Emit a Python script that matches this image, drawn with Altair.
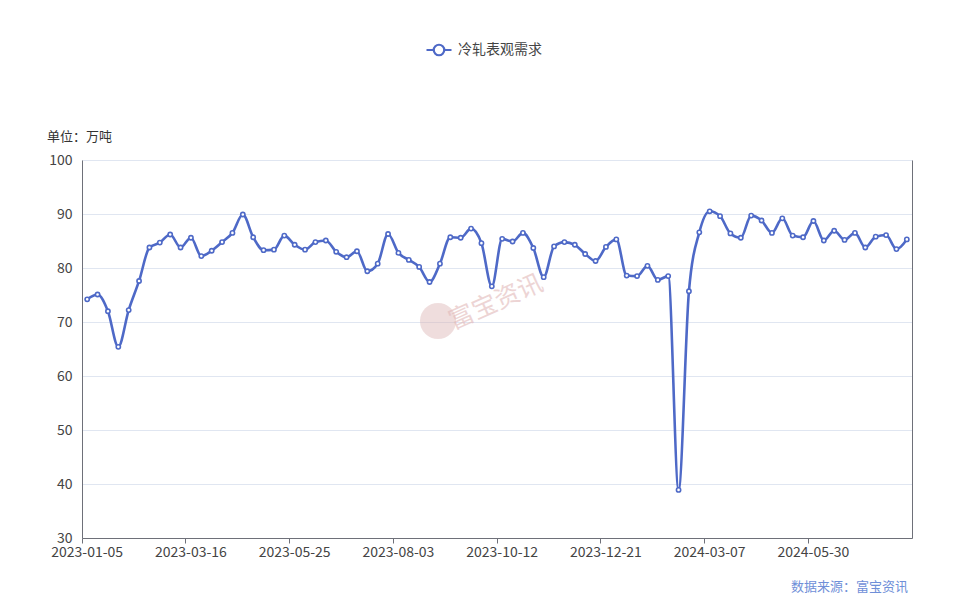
import altair as alt
import pandas as pd

dates = [
    "2023-01-05", "2023-01-12", "2023-01-19", "2023-01-26", "2023-02-02", "2023-02-09", "2023-02-16", "2023-02-23", "2023-03-02", "2023-03-09",
    "2023-03-16", "2023-03-23", "2023-03-30", "2023-04-06", "2023-04-13", "2023-04-20", "2023-04-27", "2023-05-04", "2023-05-11", "2023-05-18",
    "2023-05-25", "2023-06-01", "2023-06-08", "2023-06-15", "2023-06-22", "2023-06-29", "2023-07-06", "2023-07-13", "2023-07-20", "2023-07-27",
    "2023-08-03", "2023-08-10", "2023-08-17", "2023-08-24", "2023-08-31", "2023-09-07", "2023-09-14", "2023-09-21", "2023-09-28", "2023-10-05",
    "2023-10-12", "2023-10-19", "2023-10-26", "2023-11-02", "2023-11-09", "2023-11-16", "2023-11-23", "2023-11-30", "2023-12-07", "2023-12-14",
    "2023-12-21", "2023-12-28", "2024-01-04", "2024-01-11", "2024-01-18", "2024-01-25", "2024-02-01", "2024-02-08", "2024-02-22", "2024-02-29",
    "2024-03-07", "2024-03-14", "2024-03-21", "2024-03-28", "2024-04-03", "2024-04-11", "2024-04-18", "2024-04-25", "2024-05-09", "2024-05-16",
    "2024-05-30", "2024-06-06", "2024-06-13", "2024-06-20", "2024-06-27", "2024-07-04", "2024-07-11", "2024-07-18", "2024-07-25", "2024-08-01",
]

values = [
    74.2, 75.1, 72.0, 65.4, 72.2, 77.6, 83.8, 84.7, 86.2, 83.8,
    85.6, 82.2, 83.2, 84.8, 86.5, 89.9, 85.7, 83.3, 83.4, 86.0,
    84.3, 83.4, 84.8, 85.1, 83.0, 82.0, 83.1, 79.4, 80.8, 86.3,
    82.8, 81.5, 80.2, 77.4, 80.8, 85.7, 85.6, 87.3, 84.6, 76.6,
    85.4, 84.9, 86.5, 83.7, 78.3, 84.0, 84.8, 84.3, 82.6, 81.3,
    83.9, 85.3, 78.6, 78.5, 80.4, 77.8, 78.5, 38.9, 75.7, 86.6,
    90.5, 89.6, 86.4, 85.6, 89.7, 88.8, 86.5, 89.2, 86.0, 85.7,
    88.7, 85.1, 86.9, 85.2, 86.5, 83.8, 85.8, 86.1, 83.5, 85.3,
]

tick_labels = ["2023-01-05", "2023-03-16", "2023-05-25", "2023-08-03",
               "2023-10-12", "2023-12-21", "2024-03-07", "2024-05-30"]
series_name = "冷轧表观需求"
unit_text = "单位：万吨"
source_text = "数据来源：富宝资讯"
watermark_text = "富宝资讯"

BLUE = "#4e69c7"
FONT = "Noto Sans CJK SC"
W, H = 830, 378

df = pd.DataFrame({"date": dates, "value": values, "series": series_name})

x_enc = alt.X(
    "date:O",
    sort=dates,
    bandPosition=0.5,
    scale=alt.Scale(type="band", paddingInner=0, paddingOuter=0),
    axis=alt.Axis(
        values=tick_labels, bandPosition=0, labelAngle=0, title=None,
        domainColor="#6E7079", tickColor="#6E7079", tickSize=5,
        labelColor="#444", labelFontSize=14, labelFont=FONT, labelPadding=2,
        grid=False,
    ),
)

y_scale = alt.Scale(domain=[30, 100], nice=False, zero=False)
color_enc = alt.Color(
    "series:N",
    scale=alt.Scale(domain=[series_name], range=[BLUE]),
    legend=alt.Legend(
        title=None, orient="none", legendX=343, legendY=-124,
        symbolType="M -1 0 L -0.42 0 M 0.42 0 L 1 0 M 0.42 0 A 0.42 0.42 0 1 1 -0.42 0 A 0.42 0.42 0 1 1 0.42 0 Z",
        symbolSize=625, symbolStrokeWidth=2.2, symbolFillColor="white",
        labelFont=FONT, labelFontSize=14, labelColor="#444", labelOffset=5,
    ),
)

line = alt.Chart(df).mark_line(interpolate="monotone", strokeWidth=2.6).encode(
    x=x_enc,
    y=alt.Y("value:Q", scale=y_scale, title=None,
            axis=alt.Axis(values=list(range(30, 101, 10)), grid=True, gridColor="#E0E6F1",
                          domainColor="#6E7079", ticks=False, labelColor="#444",
                          labelFontSize=14, labelFont=FONT, labelPadding=10)),
    color=color_enc,
)

points = alt.Chart(df).mark_point(shape="circle", filled=False, fill="white", fillOpacity=1,
                                  size=18, strokeWidth=1.6, opacity=1).encode(
    x=x_enc,
    y=alt.Y("value:Q", scale=y_scale, title=None,
            axis=alt.Axis(orient="right", labels=False, ticks=False, grid=False,
                          domainColor="#6E7079", values=list(range(30, 101, 10)))),
    color=color_enc,
)

ann = pd.DataFrame({"t": [unit_text]})
unit = alt.Chart(ann).mark_text(align="left", baseline="middle", font=FONT, fontSize=13,
                                color="#333").encode(
    text="t:N", x=alt.value(-35), y=alt.value(-23))

src = alt.Chart(pd.DataFrame({"t": [source_text]})).mark_text(
    align="right", baseline="middle", font=FONT, fontSize=13, color="#6f8fd8").encode(
    text="t:N", x=alt.value(826), y=alt.value(427))

wm = alt.Chart(pd.DataFrame({"t": [watermark_text]})).mark_text(
    align="center", baseline="middle", font=FONT, fontSize=25, color="#e2b9b9",
    opacity=0.6, angle=336).encode(
    text="t:N", x=alt.value(414), y=alt.value(142))

logo = alt.Chart(pd.DataFrame({"t": [watermark_text]})).mark_point(
    shape="circle", filled=True, color="#dcb3b3", opacity=0.45, size=1300).encode(
    x=alt.value(356), y=alt.value(161))

chart = alt.layer(logo, wm, line, points, unit, src).resolve_axis(y="independent").properties(
    width=W, height=H,
    autosize=alt.AutoSizeParams(type="none"),
    padding={"left": 74, "top": 152, "right": 50, "bottom": 62},
).configure_view(stroke=None).configure(background="white")

chart.save("out.html", embed_options={"renderer": "svg", "actions": False})
